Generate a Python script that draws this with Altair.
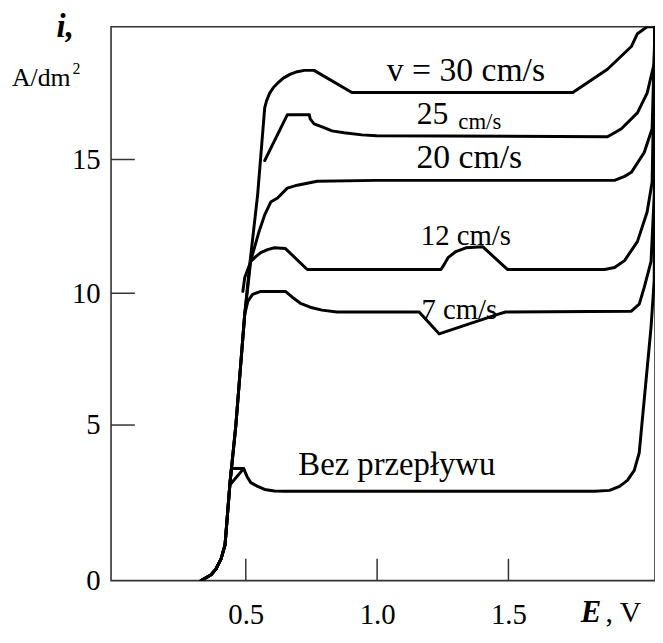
import altair as alt
import pandas as pd

FONT = "Liberation Serif"

# ---- axis ticks ----
x_ticks = [0.5, 1.0, 1.5]
y_ticks = [5, 10, 15]
y_labels = [0, 5, 10, 15]

# ---- curves: E (V) and i (A/dm2) ----
bez_E = [0.330, 0.368, 0.387, 0.406, 0.421, 0.440, 0.445, 0.492, 0.505, 0.519, 0.545, 0.572,
         0.609, 0.647, 1.828, 1.885, 1.923, 1.953, 1.979, 1.998, 2.043, 2.055, 2.058]
bez_i = [0.00, 0.19, 0.38, 0.70, 1.15, 3.15, 3.60, 3.60, 3.34, 3.15, 3.03, 2.93,
         2.88, 2.87, 2.87, 2.90, 3.03, 3.22, 3.54, 4.11, 8.72, 10.50, 19.96]

hook_E = [0.444, 0.492]
hook_i = [3.12, 3.60]

v7_E = [0.330, 0.368, 0.387, 0.406, 0.421, 0.440, 0.462, 0.496, 0.508, 0.526, 0.557, 0.651,
        0.677, 0.708, 0.745, 0.790, 0.847, 1.160, 1.236, 1.462, 1.489, 1.968, 1.998, 2.017,
        2.043, 2.055, 2.058]
v7_i = [0.00, 0.19, 0.38, 0.70, 1.15, 3.15, 4.97, 9.21, 9.70, 9.96, 10.07, 10.07,
        9.85, 9.62, 9.47, 9.36, 9.29, 9.29, 8.46, 9.21, 9.29, 9.32, 9.59, 10.22,
        11.19, 13.67, 19.96]

v12_E = [0.489, 0.496, 0.519, 0.538, 0.557, 0.583, 0.609, 0.651, 0.734, 1.243, 1.255, 1.270,
         1.300, 1.338, 1.402, 1.496, 1.866, 1.904, 1.942, 1.991, 2.028, 2.047, 2.058]
v12_i = [10.07, 10.59, 11.19, 11.37, 11.52, 11.63, 11.70, 11.67, 10.89, 10.89, 11.07, 11.33,
         11.56, 11.70, 11.74, 10.89, 10.89, 10.96, 11.22, 11.93, 13.04, 14.15, 19.96]

v20_E = [0.330, 0.368, 0.387, 0.406, 0.421, 0.440, 0.462, 0.496, 0.519, 0.549, 0.572, 0.595,
         0.621, 0.658, 0.696, 0.772, 0.998, 1.904, 1.942, 1.968, 2.017, 2.047, 2.058]
v20_i = [0.00, 0.19, 0.38, 0.70, 1.15, 3.15, 4.97, 9.21, 11.22, 12.26, 12.93, 13.41,
         13.56, 13.93, 14.04, 14.19, 14.22, 14.22, 14.37, 14.52, 15.26, 16.15, 19.96]

v25_E = [0.572, 0.658, 0.742, 0.745, 0.760, 0.798, 0.828, 0.874, 0.942, 0.998, 1.877, 1.904,
         1.930, 1.991, 2.028, 2.055, 2.058]
v25_i = [14.96, 16.67, 16.67, 16.52, 16.33, 16.19, 16.07, 16.00, 15.92, 15.89, 15.85, 16.00,
         16.15, 16.74, 17.48, 18.59, 19.96]

v30_E = [0.330, 0.368, 0.387, 0.406, 0.421, 0.440, 0.462, 0.496, 0.515, 0.545, 0.572, 0.579,
         0.591, 0.606, 0.621, 0.643, 0.670, 0.696, 0.723, 0.760, 0.904, 1.745, 1.877, 1.968,
         1.991, 2.028, 2.058]
v30_i = [0.00, 0.19, 0.38, 0.70, 1.15, 3.15, 4.97, 9.21, 11.07, 13.67, 16.93, 17.19,
         17.48, 17.70, 17.85, 18.04, 18.19, 18.28, 18.33, 18.33, 17.50, 17.50, 18.37, 19.22,
         19.70, 19.96, 19.96]

# ---- annotations inside the plot ----
ann_text = ["v = 30 cm/s", "25", "cm/s", "20 cm/s", "12 cm/s", "7 cm/s", "Bez przepływu"]
ann_E = [1.338, 1.211, 1.391, 1.351, 1.338, 1.313, 1.075]
ann_i = [17.93, 16.33, 16.15, 14.67, 11.81, 9.02, 3.38]
ann_size = [34, 32, 23, 34, 29, 29, 33]

series = {
    "bez": (bez_E, bez_i),
    "hook": (hook_E, hook_i),
    "7": (v7_E, v7_i),
    "12": (v12_E, v12_i),
    "20": (v20_E, v20_i),
    "25": (v25_E, v25_i),
    "30": (v30_E, v30_i),
}
rows = []
for name, (es, iv) in series.items():
    assert len(es) == len(iv), name
    for k, (e, i) in enumerate(zip(es, iv)):
        rows.append({"s": name, "k": k, "E": e, "i": i})
df = pd.DataFrame(rows)

W, H = 549, 559
xscale = alt.Scale(domain=[-0.013, 2.058], nice=False, zero=False)
yscale = alt.Scale(domain=[0, 5, 10, 15, 19.96], range=[559, 402, 269, 134, 0],
                   nice=False, zero=False)

xaxis = alt.Axis(values=x_ticks, format=".1f", title=None, ticks=False, tickSize=0,
                 domain=False, grid=False, labelFont=FONT, labelFontSize=29,
                 labelColor="black", labelPadding=20, labelFlush=False)
yaxis = alt.Axis(values=y_labels, format="d", title=None, ticks=False, tickSize=0,
                 domain=False, grid=False, labelFont=FONT, labelFontSize=29,
                 labelColor="black", labelPadding=11, labelFlush=False)

lines = alt.Chart(df).mark_line(color="black", strokeWidth=3, strokeJoin="round",
                                strokeCap="round", clip=True).encode(
    x=alt.X("E:Q", scale=xscale, axis=xaxis),
    y=alt.Y("i:Q", scale=yscale, axis=yaxis),
    detail="s:N",
    order="k:Q",
)

xt = alt.Chart(pd.DataFrame({"E": x_ticks})).mark_rule(color="#333", strokeWidth=1.5).encode(
    x=alt.X("E:Q", scale=xscale, axis=xaxis),
    y=alt.value(H),
    y2=alt.value(H - 22),
)
yt = alt.Chart(pd.DataFrame({"i": y_ticks})).mark_rule(color="#333", strokeWidth=1.5).encode(
    y=alt.Y("i:Q", scale=yscale, axis=yaxis),
    x=alt.value(0),
    x2=alt.value(24),
)

ann = alt.Chart(pd.DataFrame({"t": ann_text, "E": ann_E, "i": ann_i, "fs": ann_size})).mark_text(
    font=FONT, align="center", baseline="alphabetic", color="black"
).encode(
    x=alt.X("E:Q", scale=xscale, axis=xaxis),
    y=alt.Y("i:Q", scale=yscale, axis=yaxis),
    text="t:N",
    size=alt.Size("fs:Q", scale=None, legend=None),
)


def label(txt, x, y, size, weight="normal", style="normal"):
    return alt.Chart(pd.DataFrame({"t": [txt]})).mark_text(
        font=FONT, fontSize=size, fontWeight=weight, fontStyle=style,
        align="left", baseline="alphabetic", color="black"
    ).encode(x=alt.value(x), y=alt.value(y), text="t:N")


t_i = label("i,", -55, 10, 33, "bold", "italic")
t_unit = label("A/dm", -100, 60, 26)
t_sup = label("2", -39, 48, 16)
t_E = label("E", 474, 601, 31, "bold", "italic")
t_V = label(", V", 499, 601, 30)

chart = alt.layer(lines, xt, yt, ann, t_i, t_unit, t_sup, t_E, t_V).properties(
    width=W, height=H,
    autosize=alt.AutoSizeParams(type="none"),
    padding={"left": 104, "top": 16, "right": 0, "bottom": 52},
).configure_view(stroke="#333", strokeWidth=1.6)

chart.save("out.html", embed_options={"renderer": "svg", "actions": False})
